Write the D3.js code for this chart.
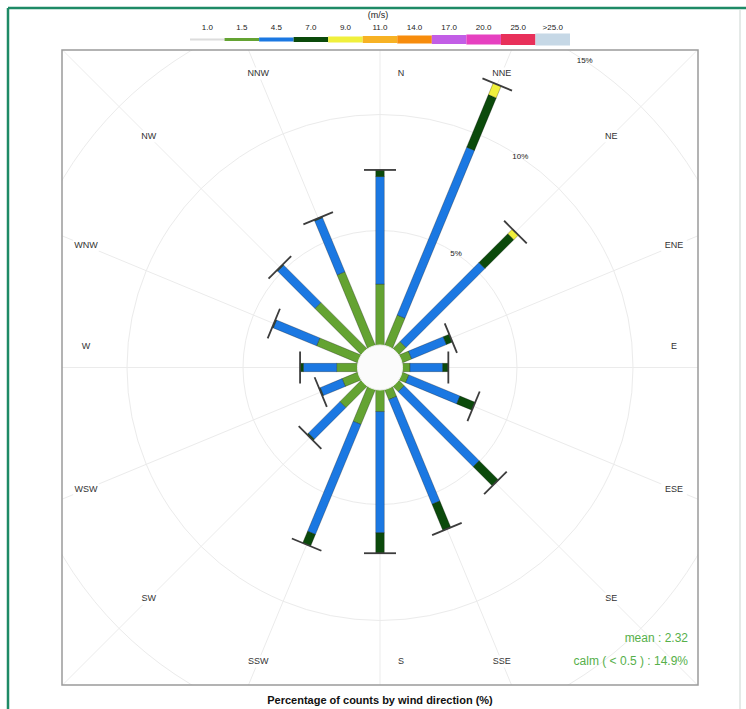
<!DOCTYPE html>
<html>
<head>
<meta charset="utf-8">
<script src="https://cdn.jsdelivr.net/npm/d3@7"></script>
<style>
  body { margin: 0; background: #fff; }
  svg { display: block; font-family: "Liberation Sans", Arial, sans-serif; }
</style>
</head>
<body>
<div class="graphic"></div>
<script>
// wind directions (compass order)
const directions = ["N","NNE","NE","ENE","E","ESE","SE","SSE","S","SSW","SW","WSW","W","WNW","NW","NNW"];

// speed bins shown in the key
const speedLabels = ["1.0","1.5","4.5","7.0","9.0","11.0","14.0","17.0","20.0","25.0",">25.0"];
const speedColors = ["#dcdcdc","#64a332","#1b78e2","#0b4a0b","#f0f03c","#f7b224","#f78c0c","#c25ee6","#e640c0","#e8305a","#c6d8e6"];

// percentage of counts per direction, one array per speed bin
const bin1 = [0,0,0,0,0,0,0,0,0,0,0,0,0,0,0,0];
const bin2 = [2.69,1.47,0.50,0.50,0.39,0.37,0.39,0.52,1.00,1.68,1.36,0.79,0.96,1.98,2.88,3.49];
const bin3 = [4.63,7.83,4.81,1.62,1.41,2.38,4.57,4.88,5.22,5.13,1.92,1.02,1.44,2.02,2.27,2.52];
const bin4 = [0.29,2.45,1.76,0.28,0.24,0.71,1.17,1.23,0.88,0.55,0.08,0.05,0.14,0.05,0.05,0.05];
const bin5 = [0,0.55,0.28,0,0,0,0,0,0,0,0,0,0,0,0,0];
const bins = [bin1, bin2, bin3, bin4, bin5];

const gridPct = [5, 10, 15];
const meanSpeed = "2.32";
const calmPct = "14.9";

const svg = d3.select(".graphic")
  .append("svg")
  .attr("width", 746)
  .attr("height", 709);

// outer frame: green top/left, pale right edge
svg.append("line")
  .attr("x1", 8).attr("y1", 8).attr("x2", 746).attr("y2", 8)
  .attr("stroke", "#1e8a66").attr("stroke-width", 2.5);
svg.append("line")
  .attr("x1", 8).attr("y1", 8).attr("x2", 8).attr("y2", 709)
  .attr("stroke", "#1e8a66").attr("stroke-width", 2.5);
svg.append("line")
  .attr("x1", 740).attr("y1", 10).attr("x2", 740).attr("y2", 709)
  .attr("stroke", "#dde3e0").attr("stroke-width", 1.5);

// panel
const panel = {x0: 62, y0: 50, x1: 698, y1: 685};
const cx = 380, cy = 367.5;

svg.append("clipPath").attr("id", "pclip")
  .append("rect")
  .attr("x", panel.x0).attr("y", panel.y0)
  .attr("width", panel.x1 - panel.x0).attr("height", panel.y1 - panel.y0);

const r = d3.scaleLinear().domain([0, 15]).range([21, 369]);

const grid = svg.append("g").attr("clip-path", "url(#pclip)");

// radial lines
grid.selectAll("line.spoke")
  .data(directions)
  .join("line")
    .attr("class", "spoke")
    .attr("x1", cx).attr("y1", cy)
    .attr("x2", (d, i) => cx + 600 * Math.sin(i * Math.PI / 8))
    .attr("y2", (d, i) => cy - 600 * Math.cos(i * Math.PI / 8))
    .attr("stroke", "#ebebeb")
    .attr("stroke-width", 1);

// circles
grid.selectAll("circle.ring")
  .data(gridPct)
  .join("circle")
    .attr("class", "ring")
    .attr("cx", cx).attr("cy", cy)
    .attr("r", d => r(d))
    .attr("fill", "none")
    .attr("stroke", "#ebebeb")
    .attr("stroke-width", 1);

// percentage labels
const labAngle = 33.7 * Math.PI / 180;
svg.selectAll("text.pct")
  .data(gridPct)
  .join("text")
    .attr("class", "pct")
    .attr("x", d => cx + r(d) * Math.sin(labAngle))
    .attr("y", d => cy - r(d) * Math.cos(labAngle))
    .attr("text-anchor", "middle")
    .attr("dominant-baseline", "middle")
    .attr("font-size", 8)
    .attr("fill", "#222")
    .text(d => d + "%");

// direction labels
const labelPos = (i) => {
  const a = i * Math.PI / 8;
  const s = Math.sin(a), c = Math.cos(a);
  const rr = Math.min(294 / Math.max(Math.abs(s), Math.abs(c)), 327);
  let x = cx + rr * s, y = cy - rr * c;
  if (i % 4 === 0) {
    if (i % 8 === 0) x += 21; else y -= 21;
  }
  return [x, y];
};

const dirLab = svg.append("g").selectAll("g")
  .data(directions)
  .join("g")
    .attr("transform", (d, i) => `translate(${labelPos(i)})`);

dirLab.append("rect")
  .attr("x", d => -d.length * 3.6 - 2)
  .attr("y", -6)
  .attr("width", d => d.length * 7.2 + 4)
  .attr("height", 12)
  .attr("fill", "#fff");

dirLab.append("text")
  .attr("text-anchor", "middle")
  .attr("dominant-baseline", "middle")
  .attr("font-size", 9)
  .attr("fill", "#333")
  .text(d => d);

// bars
const barW = 8.5;
const bars = svg.append("g").selectAll("g")
  .data(directions)
  .join("g")
    .attr("transform", (d, i) => `translate(${cx},${cy}) rotate(${i * 22.5})`);

bars.each(function(d, i) {
  const g = d3.select(this);
  let cum = 0;
  bins.forEach((b, k) => {
    const v = b[i];
    if (v > 0) {
      g.append("rect")
        .attr("x", -barW / 2)
        .attr("y", -r(cum + v))
        .attr("width", barW)
        .attr("height", r(cum + v) - r(cum))
        .attr("fill", speedColors[k])
        .attr("stroke", "rgba(0,0,0,0.35)")
        .attr("stroke-width", 0.7);
    }
    cum += v;
  });
  // paddle cap
  g.append("line")
    .attr("x1", -16).attr("x2", 16)
    .attr("y1", -r(cum)).attr("y2", -r(cum))
    .attr("stroke", "#3c3c3c")
    .attr("stroke-width", 1.8);
});

// calm circle on top of the bar roots
svg.append("circle")
  .attr("cx", cx).attr("cy", cy)
  .attr("r", r(0) + 1.5)
  .attr("fill", "#fbfbfb")
  .attr("stroke", "#efefef");

// panel border
svg.append("rect")
  .attr("x", panel.x0).attr("y", panel.y0)
  .attr("width", panel.x1 - panel.x0).attr("height", panel.y1 - panel.y0)
  .attr("fill", "none")
  .attr("stroke", "#9a9a9a")
  .attr("stroke-width", 1.5);

// key
const kx = d3.scaleBand().domain(speedLabels).range([190, 570]);
const kh = d3.scaleLinear().domain([0, speedLabels.length - 1]).range([2, 12]);

svg.selectAll("rect.key")
  .data(speedLabels)
  .join("rect")
    .attr("class", "key")
    .attr("x", d => kx(d))
    .attr("y", (d, i) => 39.5 - (i === 0 ? 1 : kh(i) / 2))
    .attr("width", kx.bandwidth())
    .attr("height", (d, i) => i === 0 ? 2 : kh(i))
    .attr("fill", (d, i) => speedColors[i]);

svg.selectAll("text.key")
  .data(speedLabels)
  .join("text")
    .attr("class", "key")
    .attr("x", d => kx(d) + kx.bandwidth() / 2)
    .attr("y", 30)
    .attr("text-anchor", "middle")
    .attr("font-size", 8)
    .attr("fill", "#222")
    .text(d => d);

svg.append("text")
  .attr("x", 378).attr("y", 18)
  .attr("text-anchor", "middle")
  .attr("font-size", 9)
  .attr("fill", "#222")
  .text("(m/s)");

// stats
svg.append("text")
  .attr("x", 688).attr("y", 642)
  .attr("text-anchor", "end")
  .attr("font-size", 12)
  .attr("fill", "#56b04a")
  .text(`mean : ${meanSpeed}`);

svg.append("text")
  .attr("x", 688).attr("y", 665)
  .attr("text-anchor", "end")
  .attr("font-size", 12)
  .attr("fill", "#56b04a")
  .text(`calm ( < 0.5 ) : ${calmPct}%`);

// title
svg.append("text")
  .attr("x", 380).attr("y", 704)
  .attr("text-anchor", "middle")
  .attr("font-size", 11)
  .attr("font-weight", "bold")
  .attr("fill", "#111")
  .text("Percentage of counts by wind direction (%)");
</script>
</body>
</html>
